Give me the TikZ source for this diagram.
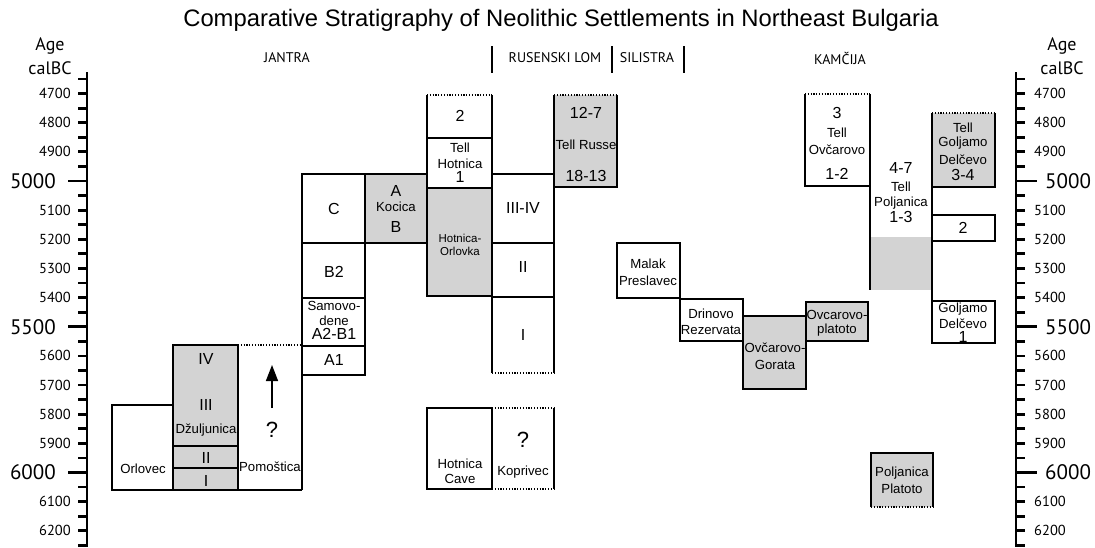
\documentclass[tikz,border=0pt]{standalone}
\usepackage{fontspec}
\setmainfont{Liberation Sans}
\newfontfamily\axisfont{PT Sans}
\usetikzlibrary{arrows.meta}
\definecolor{boxgray}{RGB}{211,211,211}
\begin{document}
\begin{tikzpicture}[x=1pt,y=-1pt,
  bx/.style={line width=1.4pt},
  dl/.style={line width=1.4pt, dash pattern=on 1.2pt off 1.6pt},
  ax/.style={line width=2.8pt},
  wd/.style={font=\fontsize{13.2}{14}\selectfont, inner sep=0pt},
  nm/.style={font=\fontsize{16}{17}\selectfont, inner sep=0pt},
  sm/.style={font=\fontsize{11.5}{12}\selectfont, inner sep=0pt},
  qm/.style={font=\fontsize{22}{24}\selectfont, inner sep=0pt},
  tk/.style={font=\axisfont\fontsize{14.5}{15}\selectfont, inner sep=0pt},
  tkb/.style={font=\axisfont\fontsize{21}{22}\selectfont, inner sep=0pt},
  hd/.style={font=\axisfont\fontsize{14}{15}\selectfont, inner sep=0pt},
  agel/.style={font=\axisfont\fontsize{18}{19}\selectfont, inner sep=0pt}]
\useasboundingbox (0,0) rectangle (1095,547);

% title
\node[font=\fontsize{23.8}{25}\selectfont, inner sep=0pt] (title) at (561,20) {Comparative Stratigraphy of Neolithic Settlements in Northeast Bulgaria};

% headers
\node[hd] (hjantra) at (287,58) {JANTRA};
\node[hd] (hrus) at (555,58) {RUSENSKI LOM};
\node[hd] (hsil) at (647,58) {SILISTRA};
\node[hd] (hkam) at (840,58) {KAM\v{C}IJA};
\draw[line width=1.2pt] (492,46)--(492,73) (612,46)--(612,73) (684,46)--(684,73);

% Age labels
\node[agel] (ageL) at (50,46) {Age};
\node[agel] (calL) at (50,68) {calBC};
\node[agel] (ageR) at (1062,46) {Age};
\node[agel] (calR) at (1062,68) {calBC};

% axes
\draw[ax] (87,72)--(87,547);
\draw[ax] (1016,72)--(1016,547);
\foreach \a in {4650,4700,...,6250}{
  \pgfmathsetmacro\yy{181+(\a-5000)*0.2915}
  \draw[ax] (78,\yy)--(87,\yy);
  \draw[ax] (1016,\yy)--(1025,\yy);
}
\foreach \a in {4700,4800,4900,5100,5200,5300,5400,5600,5700,5800,5900,6100,6200}{
  \pgfmathsetmacro\yy{181+(\a-5000)*0.2915}
  \node[tk,anchor=east] (l\a) at (71,\yy) {\a};
  \node[tk,anchor=west] (r\a) at (1034,\yy) {\a};
}
\foreach \a in {5000,5500,6000}{
  \pgfmathsetmacro\yy{181+(\a-5000)*0.2915}
  \draw[ax] (68,\yy)--(87,\yy);
  \draw[ax] (1016,\yy)--(1037,\yy);
  \node[tkb,anchor=east] (l\a) at (56,\yy) {\a};
  \node[tkb,anchor=west] (r\a) at (1045,\yy) {\a};
}

% gray fills
\fill[boxgray] (173,345) rectangle (238,490);
\fill[boxgray] (365,174) rectangle (427,243);
\fill[boxgray] (427,188) rectangle (492,296);
\fill[boxgray] (554,95) rectangle (617,187);
\fill[boxgray] (743,316) rectangle (806,389);
\fill[boxgray] (806,302) rectangle (868,341);
\fill[boxgray] (870,237) rectangle (932,290);
\fill[boxgray] (932,113) rectangle (995,187);
\fill[boxgray] (871,453) rectangle (933,507);

% JANTRA
\draw[bx] (173,405)--(112,405)--(112,490)--(302,490);
\draw[bx] (173,490)--(173,345)--(238,345)--(238,490);
\draw[bx] (173,446)--(238,446) (173,468)--(238,468);
\draw[dl] (238,345)--(302,345);
\draw[bx] (302,490)--(302,174)--(427,174);
\draw[bx] (365,174)--(365,375)--(302,375);
\draw[bx] (302,243)--(427,243) (302,298)--(365,298) (302,346)--(365,346);
\draw[bx] (427,95)--(427,296)--(492,296);
\draw[bx] (492,95)--(492,373);
\draw[dl] (427,95)--(492,95);
\draw[bx] (427,138)--(492,138) (427,188)--(492,188);
\coordinate (arrS) at (272,408);
\coordinate (arrE) at (272,365);
\draw[line width=1.5pt, -{Triangle[length=16pt,width=12pt]}] (arrS)--(arrE);

% RUSENSKI LOM
\draw[bx] (554,95)--(554,373);
\draw[bx] (492,174)--(554,174) (492,243)--(554,243) (492,297)--(554,297);
\draw[dl] (492,373)--(554,373);
\draw[dl] (554,95)--(617,95);
\draw[bx] (617,95)--(617,187)--(554,187);
\draw[bx] (427,408) rectangle (492,489);
\draw[dl] (492,408)--(554,408) (492,489)--(554,489);
\draw[bx] (554,408)--(554,489);

% SILISTRA / KAMCIJA
\draw[bx] (617,243) rectangle (680,298);
\draw[bx] (680,299) rectangle (743,341);
\draw[bx] (743,316) rectangle (806,389);
\draw[bx] (806,302) rectangle (868,341);
\draw[dl] (805,94)--(870,94);
\draw[bx] (805,94)--(805,186)--(870,186);
\draw[bx] (870,94)--(870,290);
\draw[dl] (932,113)--(995,113);
\draw[bx] (932,113)--(932,343);
\draw[bx] (995,113)--(995,187)--(932,187);
\draw[bx] (932,215) rectangle (995,241);
\draw[bx] (932,301) rectangle (995,343);
\draw[bx] (871,507)--(871,453)--(933,453)--(933,507);
\draw[dl] (871,507)--(933,507);

% labels JANTRA
\node[wd] (orlovec) at (143,469) {Orlovec};
\node[nm] (dIV) at (206,359) {IV};
\node[nm] (dIII) at (206,405) {III};
\node[wd] (dzul) at (206,430) {D\v{z}uljunica};
\node[nm] (dII) at (206,458) {II};
\node[nm] (dI) at (206,481) {I};
\node[qm] (pq) at (272,430) {?};
\node[wd] (pomo) at (270,467) {Pomo\v{s}tica};
\node[nm] (sC) at (334,209) {C};
\node[nm] (sB2) at (334,272) {B2};
\node[wd] (samo1) at (334,306) {Samovo-};
\node[wd] (samo2) at (334,321) {dene};
\node[nm] (samo3) at (334,334) {A2-B1};
\node[nm] (sA1) at (334,360) {A1};
\node[nm] (kA) at (396,191) {A};
\node[wd] (koc) at (396,207) {Kocica};
\node[nm] (kB) at (396,227) {B};
\node[nm] (h2) at (460,116) {2};
\node[wd] (th1) at (460,148) {Tell};
\node[wd] (th2) at (460,164) {Hotnica};
\node[nm] (th3) at (460,177) {1};
\node[sm] (ho1) at (460,238) {Hotnica-};
\node[sm] (ho2) at (460,251) {Orlovka};
\node[wd] (hc1) at (460,464) {Hotnica};
\node[wd] (hc2) at (460,479) {Cave};

% labels RUSENSKI LOM
\node[nm] (r34) at (523,208) {III-IV};
\node[nm] (r2) at (523,267) {II};
\node[nm] (r1) at (523,335) {I};
\node[nm] (tr1) at (586,113) {12-7};
\node[wd] (tr2) at (586,145) {Tell Russe};
\node[nm] (tr3) at (586,176) {18-13};
\node[qm] (kq) at (523,440) {?};
\node[wd] (kop) at (523,472) {Koprivec};

% labels SILISTRA / KAMCIJA
\node[wd] (mp1) at (648,264) {Malak};
\node[wd] (mp2) at (648,281) {Preslavec};
\node[wd] (dr1) at (711,314) {Drinovo};
\node[wd] (dr2) at (711,330) {Rezervata};
\node[wd] (og1) at (775,348) {Ov\v{c}arovo-};
\node[wd] (og2) at (775,365) {Gorata};
\node[wd] (op1) at (837,315) {Ovcarovo-};
\node[wd] (op2) at (837,330) {platoto};
\node[nm] (to1) at (837,113) {3};
\node[wd] (to2) at (837,133) {Tell};
\node[wd] (to3) at (837,150) {Ov\v{c}arovo};
\node[nm] (to4) at (837,174) {1-2};
\node[nm] (tp1) at (901,168) {4-7};
\node[wd] (tp2) at (901,187) {Tell};
\node[wd] (tp3) at (901,203) {Poljanica};
\node[nm] (tp4) at (901,217) {1-3};
\node[wd] (tg1) at (963,128) {Tell};
\node[wd] (tg2) at (963,143) {Goljamo};
\node[wd] (tg3) at (963,160) {Del\v{c}evo};
\node[nm] (tg4) at (963,175) {3-4};
\node[nm] (g2) at (963,228) {2};
\node[wd] (gd1) at (963,309) {Goljamo};
\node[wd] (gd2) at (963,324) {Del\v{c}evo};
\node[nm] (gd3) at (963,337) {1};
\node[wd] (pp1) at (902,473) {Poljanica};
\node[wd] (pp2) at (902,489) {Platoto};
\end{tikzpicture}
\end{document}
